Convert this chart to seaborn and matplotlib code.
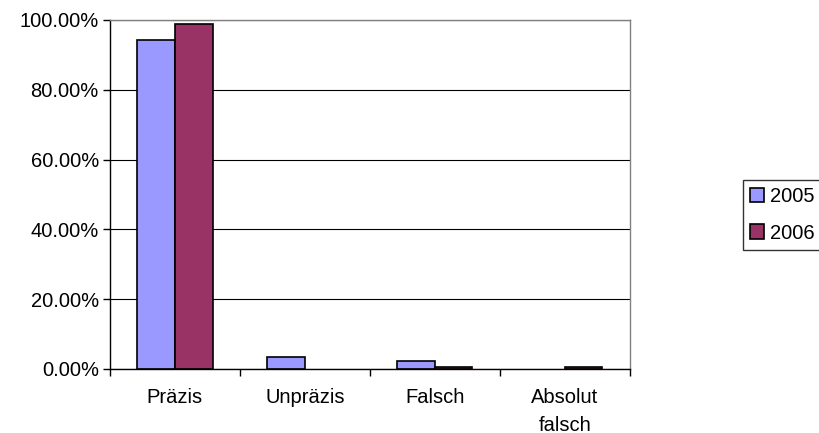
import numpy as np
import pandas as pd
import seaborn as sns
import matplotlib.pyplot as plt
from matplotlib.ticker import FuncFormatter, FixedLocator

categories = ["Präzis", "Unpräzis", "Falsch", "Absolut\nfalsch"]
years = ["2005", "2006"]
values_2005 = [94.3, 3.4, 2.3, 0.0]
values_2006 = [98.9, 0.0, 0.6, 0.6]

df = pd.DataFrame({
    "Kategorie": categories * 2,
    "Jahr": [years[0]] * 4 + [years[1]] * 4,
    "Wert": values_2005 + values_2006,
})

sns.set_theme(style="white")
plt.rcParams["font.family"] = ["Liberation Sans", "DejaVu Sans"]
plt.rcParams["text.color"] = "black"
plt.rcParams["xtick.color"] = "black"
plt.rcParams["ytick.color"] = "black"

fs = 14.5

fig = plt.figure(figsize=(8.2, 4.33), dpi=100)
ax = fig.add_axes([0.134, 0.148, 0.634, 0.806])

sns.barplot(data=df, x="Kategorie", y="Wert", hue="Jahr",
            palette=["#9999FF", "#993366"], width=0.58, gap=0,
            edgecolor="black", linewidth=1.2, saturation=1, ax=ax)

# empty bars are not drawn in the original
for c in ax.containers:
    for p in c.patches:
        if p.get_height() == 0:
            p.set_linewidth(0)

ax.set_ylim(0, 100)
ax.set_xlim(-0.5, 3.5)
ax.set_yticks(np.arange(0, 101, 20))
ax.yaxis.set_major_formatter(FuncFormatter(lambda v, p: f"{v:.2f}%"))
ax.yaxis.grid(True, color="black", linewidth=0.8)
ax.set_axisbelow(True)
ax.set_xlabel("")
ax.set_ylabel("")

for side in ["top", "right"]:
    ax.spines[side].set_color("#808080")
    ax.spines[side].set_linewidth(1)
for side in ["left", "bottom"]:
    ax.spines[side].set_color("black")
    ax.spines[side].set_linewidth(1)

ax.tick_params(axis="y", which="major", left=True, length=5, width=1,
               color="black", labelsize=fs, pad=3, labelcolor="black")
ax.tick_params(axis="x", which="major", bottom=False, labelsize=fs, pad=8, labelcolor="black")
ax.xaxis.set_minor_locator(FixedLocator(np.arange(-0.5, 3.6, 1)))
ax.tick_params(axis="x", which="minor", bottom=True, length=5, width=1, color="black")
for t in ax.get_xticklabels():
    t.set_linespacing(1.55)

leg = ax.legend(loc="center left", bbox_to_anchor=(1.217, 0.441), frameon=True,
                fontsize=fs, handlelength=0.7, handleheight=0.7, handletextpad=0.3,
                borderpad=0.35, labelspacing=0.85, fancybox=False, borderaxespad=0)
leg.get_frame().set_edgecolor("black")
leg.get_frame().set_linewidth(1)
for h in leg.legend_handles:
    h.set_edgecolor("black")
    h.set_linewidth(1.2)

fig.savefig("out.png", dpi=100)
